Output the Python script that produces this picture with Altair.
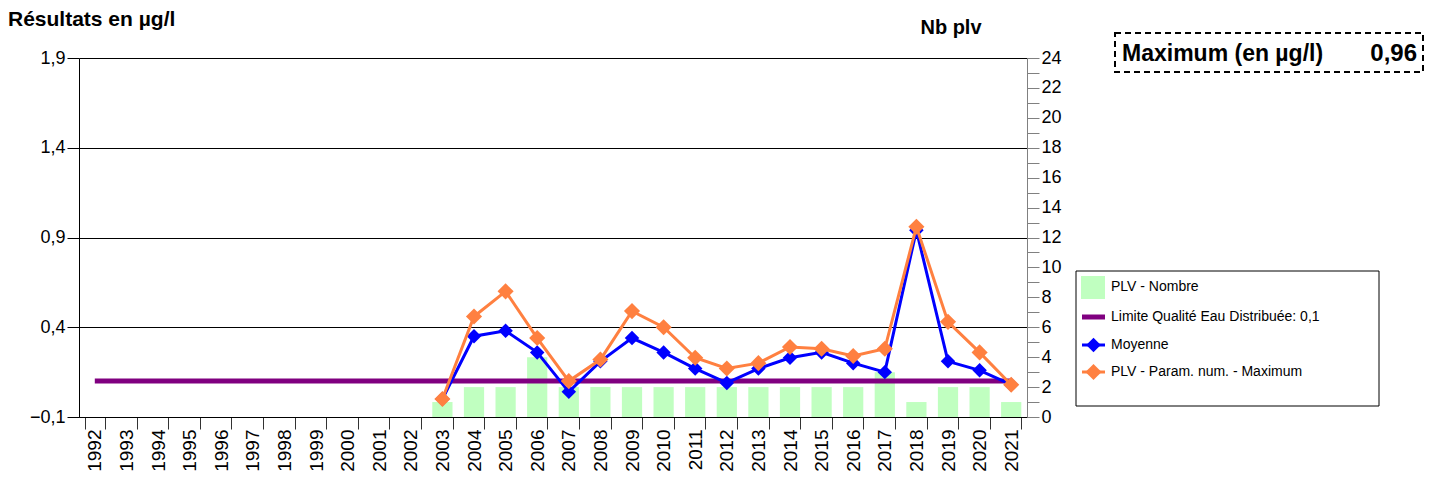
import altair as alt
import pandas as pd

FONT = "Liberation Sans"

years = [str(y) for y in range(1992, 2022)]
data_years = [str(y) for y in range(2003, 2022)]
nb_plv = [1, 2, 2, 4, 2, 2, 2, 2, 2, 2, 2, 2, 2, 2, 3, 1, 2, 2, 1]
moyenne = [0.0, 0.35, 0.38, 0.26, 0.04, 0.21, 0.34, 0.26, 0.17, 0.09,
           0.17, 0.23, 0.26, 0.20, 0.15, 0.94, 0.21, 0.16, 0.08]
maximum = [0.0, 0.46, 0.60, 0.34, 0.10, 0.22, 0.49, 0.40, 0.23, 0.17,
           0.20, 0.29, 0.28, 0.24, 0.28, 0.96, 0.43, 0.26, 0.08]
limite = 0.1
left_ticks = [-0.1, 0.4, 0.9, 1.4, 1.9]
right_ticks = list(range(0, 25))

df = pd.DataFrame({"year": data_years, "nb": nb_plv, "moy": moyenne, "max": maximum})
df_lim = pd.DataFrame({"year": years, "lim": [limite] * len(years)})

X = alt.X(
    "year:O",
    sort=years,
    scale=alt.Scale(domain=years, paddingInner=0.36, paddingOuter=0.18),
    axis=alt.Axis(
        title=None, labelAngle=270, tickBand="extent", tickSize=12,
        labelFontSize=19, labelPadding=0, domainColor="black",
        tickColor="#333333", labelColor="black", grid=False,
    ),
)

bars = alt.Chart(df).mark_bar(color="#C0FFC0").encode(
    x=X,
    y=alt.Y(
        "nb:Q",
        scale=alt.Scale(domain=[0, 24], nice=False, zero=True),
        axis=alt.Axis(
            orient="right", title=None, values=right_ticks, grid=False,
            labelExpr="datum.value % 2 == 0 ? datum.label : ''",
            tickSize=12, labelPadding=2, labelFontSize=18,
            domainColor="#808080", tickColor="#808080", labelColor="black",
        ),
    ),
)

YL = alt.Y(
    "v:Q",
    scale=alt.Scale(domain=[-0.1, 1.9], nice=False, zero=False),
    axis=alt.Axis(
        orient="left", title=None, values=left_ticks, grid=True,
        gridColor="black", gridWidth=1, gridOpacity=1,
        labelExpr="replace(format(datum.value, '.1f'), '.', ',')",
        tickSize=12, labelPadding=2, labelFontSize=18,
        domainColor="black", tickColor="black", labelColor="black",
    ),
)

lim_line = alt.Chart(df_lim).transform_calculate(v="datum.lim").mark_line(
    color="#800080", strokeWidth=5
).encode(x=X, y=YL)

moy_line = alt.Chart(df).transform_calculate(v="datum.moy").mark_line(
    color="#0000FF", strokeWidth=3
).encode(x=X, y=YL)
moy_pts = alt.Chart(df).transform_calculate(v="datum.moy").mark_point(
    shape="diamond", filled=True, size=210, color="#0000FF", opacity=1
).encode(x=X, y=YL)

max_line = alt.Chart(df).transform_calculate(v="datum.max").mark_line(
    color="#FF8040", strokeWidth=3
).encode(x=X, y=YL)
max_pts = alt.Chart(df).transform_calculate(v="datum.max").mark_point(
    shape="diamond", filled=True, size=260, color="#FF8040", opacity=1
).encode(x=X, y=YL)

inner = alt.layer(lim_line, moy_line, moy_pts, max_line, max_pts)

one = pd.DataFrame({"k": [0]})
deco = alt.Chart(one)

title_left = deco.mark_text(
    text="Résultats en µg/l", font=FONT, fontSize=21, fontWeight="bold",
    align="left", baseline="middle", color="black"
).encode(x=alt.value(-71), y=alt.value(-38))
title_right = deco.mark_text(
    text="Nb plv", font=FONT, fontSize=20, fontWeight="bold",
    align="center", baseline="middle", color="black"
).encode(x=alt.value(872), y=alt.value(-30))

max_box = deco.mark_rect(
    fill="white", stroke="black", strokeWidth=2, strokeDash=[6, 4]
).encode(x=alt.value(1036), x2=alt.value(1344), y=alt.value(-25), y2=alt.value(14))
max_label = deco.mark_text(
    text="Maximum (en µg/l)", font=FONT, fontSize=23, fontWeight="bold",
    align="left", baseline="middle", color="black"
).encode(x=alt.value(1043), y=alt.value(-4))
max_value = deco.mark_text(
    text="0,96", font=FONT, fontSize=24, fontWeight="bold",
    align="right", baseline="middle", color="black"
).encode(x=alt.value(1338), y=alt.value(-4))

leg_box = deco.mark_rect(fill="white", stroke="black", strokeWidth=1).encode(
    x=alt.value(997), x2=alt.value(1300), y=alt.value(213), y2=alt.value(348)
)
leg_sq = deco.mark_rect(color="#C0FFC0").encode(
    x=alt.value(1002), x2=alt.value(1026), y=alt.value(218), y2=alt.value(241)
)
leg_lim = deco.mark_rule(color="#800080", strokeWidth=5).encode(
    x=alt.value(1003), x2=alt.value(1026), y=alt.value(259)
)
leg_moy_l = deco.mark_rule(color="#0000FF", strokeWidth=3).encode(
    x=alt.value(1003), x2=alt.value(1026), y=alt.value(287)
)
leg_moy_p = deco.mark_point(shape="diamond", filled=True, size=210, color="#0000FF", opacity=1).encode(
    x=alt.value(1014.5), y=alt.value(287)
)
leg_max_l = deco.mark_rule(color="#FF8040", strokeWidth=3).encode(
    x=alt.value(1003), x2=alt.value(1026), y=alt.value(314)
)
leg_max_p = deco.mark_point(shape="diamond", filled=True, size=260, color="#FF8040", opacity=1).encode(
    x=alt.value(1014.5), y=alt.value(314)
)
leg_texts = []
for label, yy in [("PLV - Nombre", 229), ("Limite Qualité Eau Distribuée: 0,1", 259),
                  ("Moyenne", 287), ("PLV - Param. num. - Maximum", 314)]:
    leg_texts.append(
        deco.mark_text(text=label, font=FONT, fontSize=14, align="left",
                       baseline="middle", color="black").encode(
            x=alt.value(1032), y=alt.value(yy))
    )

chart = alt.layer(
    bars, inner,
    title_left, title_right, max_box, max_label, max_value,
    leg_box, leg_sq, leg_lim, leg_moy_l, leg_moy_p, leg_max_l, leg_max_p,
    *leg_texts,
).resolve_scale(y="independent").properties(
    width=948, height=359,
    autosize=alt.AutoSizeParams(type="none"),
    padding={"left": 71, "top": 50, "right": 408, "bottom": 59},
).configure(font=FONT).configure_view(stroke=None).configure_axis(
    labelFont=FONT, labelColor="black"
)

chart.save("out.html", embed_options={"renderer": "svg", "actions": False})
